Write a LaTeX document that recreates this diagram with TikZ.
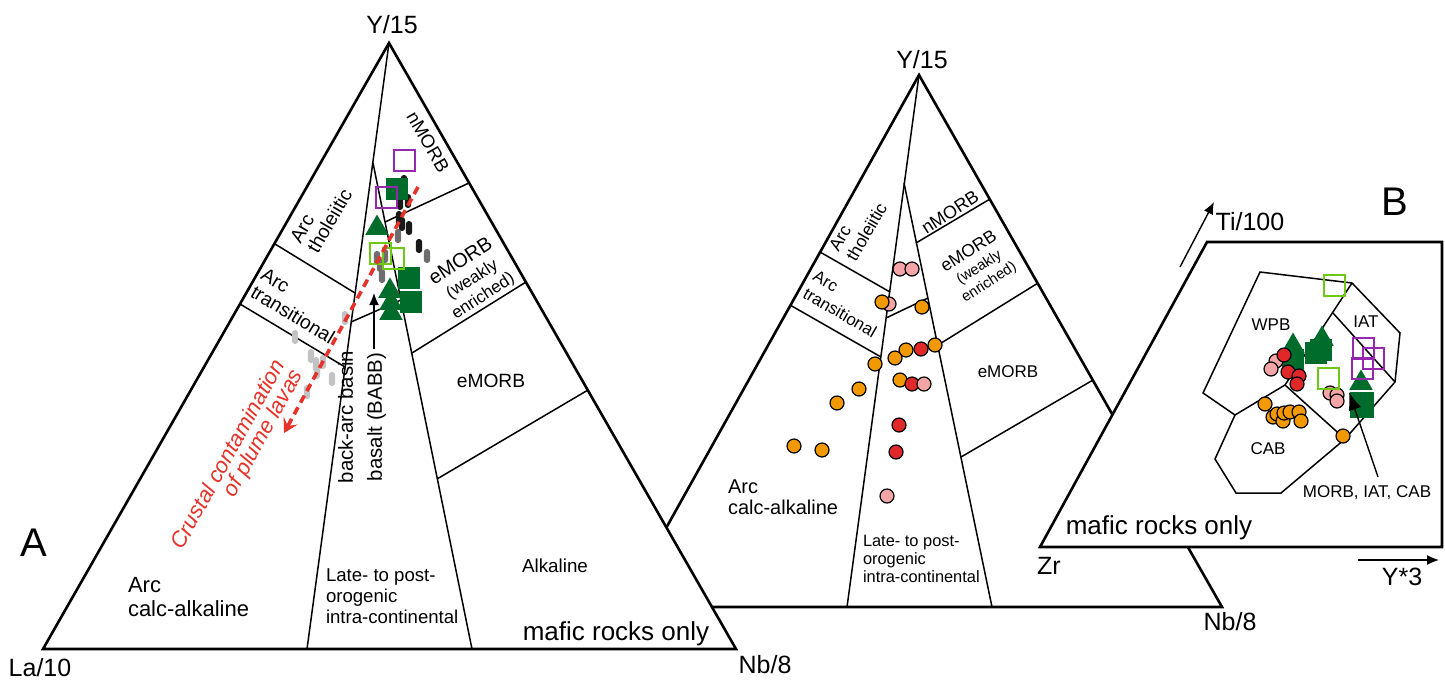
\documentclass[tikz,border=0pt]{standalone}
\usepackage{fontspec}
\setmainfont{Liberation Sans}
\usetikzlibrary{shapes.geometric, arrows.meta, calc}

\definecolor{symGreen}{RGB}{0,108,44}
\definecolor{symLime}{RGB}{110,200,20}
\definecolor{symPurple}{RGB}{150,40,175}
\definecolor{symRed}{RGB}{225,40,40}
\definecolor{symPink}{RGB}{245,165,165}
\definecolor{symOrange}{RGB}{243,153,0}
\definecolor{pillBlack}{RGB}{25,25,25}
\definecolor{pillDark}{RGB}{110,110,110}
\definecolor{pillLight}{RGB}{195,195,195}
\definecolor{trendRed}{RGB}{230,50,40}

\newcommand{\thickLine}{1.3pt}
\newcommand{\thinLine}{0.75pt}
\newcommand{\dotSize}{7pt}
\newcommand{\openSize}{10.5pt}
\newcommand{\solidSize}{11pt}
\newcommand{\triSize}{13.5pt}
\newcommand{\arrowTip}{{Latex[length=6pt, width=5pt]}}
\newcommand{\trendTip}{{Stealth[length=7pt, width=8pt, inset=3pt]}}

\tikzstyle{border}=[draw=black, line width=\thickLine]
\tikzstyle{split}=[draw=black, line width=\thinLine]
\tikzstyle{pointer}=[draw=black, line width=0.7pt, -\arrowTip]
\tikzstyle{trend}=[draw=trendRed, line width=1.8pt, dash pattern=on 4pt off 2.6pt, -\trendTip]
\tikzstyle{tag}=[inner sep=0, outer sep=0, font=\fontsize{9.5}{11}\selectfont]
\tikzstyle{small}=[tag, font=\fontsize{8.5}{9.5}\selectfont]
\tikzstyle{corner}=[tag, font=\fontsize{12.5}{14}\selectfont]
\tikzstyle{note}=[tag, font=\fontsize{13}{15}\selectfont]
\tikzstyle{panelTag}=[tag, font=\fontsize{20}{24}\selectfont]
\tikzstyle{dot}=[circle, draw=black, line width=0.6pt, minimum size=\dotSize, inner sep=0]
\tikzstyle{openBox}=[rectangle, draw, line width=1pt, minimum size=\openSize, inner sep=0]
\tikzstyle{solidBox}=[rectangle, fill=symGreen, minimum size=\solidSize, inner sep=0]
\tikzstyle{solidTri}=[regular polygon, regular polygon sides=3, fill=symGreen, minimum size=\triSize, inner sep=0]
\tikzstyle{pill}=[rectangle, rounded corners=1.5pt, minimum width=3.2pt, minimum height=7pt, inner sep=0]

\begin{document}
\begin{tikzpicture}[x=0.5pt, y=-0.5pt]

\useasboundingbox (0,0) rectangle (1445,681);

% Middle diagram
\coordinate (apexM) at (919,75);
\coordinate (leftM) at (622,607);
\coordinate (rightM) at (1222,607);
\coordinate (forkM) at (904,183);
\draw[border] (apexM) -- (leftM) -- (rightM) -- cycle;
\draw[split] (apexM) -- (847,607);
\draw[split] (forkM) -- (992,607);
\draw[split] (820,252) -- (890,292);
\draw[split] (790,305) -- (881,357);
\draw[split] (886,318) -- (928,298);
\draw[split] (916,243) -- (990,199);
\draw[split] (938,345) -- (1038,283);
\draw[split] (961,457) -- (1093,380);

\node[corner] (topM) at (922,60) {Y/15};
\node[corner] (rightTagM) at (1230,622) {Nb/8};
\node[tag, font=\fontsize{8.8}{10}\selectfont, rotate=60, align=left] (tholM) at (858,227) {Arc\\tholeiitic};
\node[tag, font=\fontsize{8.4}{10}\selectfont, rotate=-30, align=left] (transM) at (845,304) {Arc\\transitional};
\node[tag, font=\fontsize{9}{10}\selectfont, rotate=33] (nmorbM) at (950,212) {nMORB};
\node[tag, font=\fontsize{8.8}{9}\selectfont, rotate=33, align=center] (wemorbM) at (979,267)
  {eMORB\\\fontsize{7.4}{8.4}\selectfont(weakly\\\fontsize{7.4}{8.4}\selectfont enriched)};
\node[tag, font=\fontsize{8.5}{10}\selectfont] (emorbM) at (1008,372) {eMORB};
\node[tag, font=\fontsize{10}{10.5}\selectfont, anchor=west, align=left] (calcM) at (728,497) {Arc\\calc-alkaline};
\node[tag, font=\fontsize{8.2}{9}\selectfont, anchor=west, align=left] (lateM) at (863,559) {Late- to post-\\orogenic\\intra-continental};

\foreach \x/\y/\c [count=\i] in {900/269/symPink, 912/269/symPink, 889/304/symPink, 882/302/symOrange,
    922/307/symOrange, 906/350/symOrange, 921/349/symRed, 935/345/symOrange, 895/358/symOrange,
    875/364/symOrange, 900/380/symOrange, 912/384/symRed, 924/384/symPink, 859/389/symOrange,
    837/403/symOrange, 899/425/symRed, 896/452/symRed, 794/446/symOrange, 822/450/symOrange,
    887/496/symPink} {
  \node[dot, fill=\c] (dotM\i) at (\x,\y) {};
}

% Diagram A
\coordinate (apexA) at (389,43);
\coordinate (leftA) at (43,649);
\coordinate (rightA) at (736,649);
\coordinate (forkA) at (373,163);
\draw[border, fill=white] (apexA) -- (leftA) -- (rightA) -- cycle;
\draw[split] (apexA) -- (307,649);
\draw[split] (forkA) -- (472,649);
\draw[split] (275,244) -- (355,293);
\draw[split] (240,304) -- (345,367);
\draw[split] (351,322) -- (401,300);
\draw[split] (385,222) -- (469,183);
\draw[split] (412,353) -- (526,282);
\draw[split] (437,479) -- (588,390);

\node[corner] (topA) at (392,25) {Y/15};
\node[corner] (leftTagA) at (40,668) {La/10};
\node[corner] (rightTagA) at (765,665) {Nb/8};
\node[panelTag] (panelA) at (34,543) {A};
\node[note] (maficA) at (616,634) {mafic rocks only};
\node[tag, font=\fontsize{9.7}{10}\selectfont, rotate=60, align=left] (tholA) at (321,216) {Arc\\tholeiitic};
\node[tag, font=\fontsize{9.7}{10}\selectfont, rotate=-31, align=left] (transA) at (298,306) {Arc\\transitional};
\node[tag, font=\fontsize{9.3}{10}\selectfont, rotate=-60] (nmorbA) at (428,142) {nMORB};
\node[tag, font=\fontsize{10}{10}\selectfont, rotate=33, align=center] (wemorbA) at (472,279)
  {eMORB\\\fontsize{8.5}{9}\selectfont(weakly\\\fontsize{8.5}{9}\selectfont enriched)};
\node[tag, font=\fontsize{9.6}{11}\selectfont] (emorbA) at (491,381) {eMORB};
\node[tag, font=\fontsize{9.4}{11}\selectfont] (alkA) at (555,566) {Alkaline};
\node[tag, font=\fontsize{10.2}{14.5}\selectfont, rotate=90, align=center] (babbA) at (362,417) {back-arc basin\\basalt (BABB)};
\node[tag, font=\fontsize{11}{12}\selectfont, anchor=west, align=left] (calcA) at (128,597) {Arc\\calc-alkaline};
\node[tag, font=\fontsize{9.3}{10.5}\selectfont, anchor=west, align=left] (lateA) at (326,596) {Late- to post-\\orogenic\\intra-continental};

% Data in A
\foreach \x/\y [count=\i] in {295/337, 345/318, 311/356, 316/364, 323/362, 317/372, 332/379, 307/392} {
  \node[pill, fill=pillLight] (lightPill\i) at (\x,\y) {};
}
\foreach \x/\y [count=\i] in {398/236, 427/256, 377/258, 385/256, 382/276, 380/265} {
  \node[pill, fill=pillDark] (darkPill\i) at (\x,\y) {};
}
\foreach \x/\y [count=\i] in {404/182, 400/203, 408/201, 399/218, 402/224, 409/228, 419/246} {
  \node[pill, fill=pillBlack] (blackPill\i) at (\x,\y) {};
}
\foreach \x/\y [count=\i] in {397/189, 409/278, 411/302} {
  \node[solidBox] (boxA\i) at (\x,\y) {};
}
\foreach \x/\y [count=\i] in {377/228, 390/291, 391/303, 391/313} {
  \node[solidTri] (triA\i) at (\x,\y) {};
}
\node[openBox, draw=symPurple] (purpleA1) at (404,160) {};
\node[openBox, draw=symPurple] (purpleA2) at (386,197) {};
\node[openBox, draw=symLime] (limeA1) at (380,253) {};
\node[openBox, draw=symLime] (limeA2) at (393,258) {};

\coordinate (babbFoot) at (374,349);
\coordinate (babbTip) at (374,293);
\draw[pointer] (babbFoot) -- (babbTip);

\coordinate (trendStart) at (418,187);
\coordinate (trendEnd) at (284,433);
\draw[trend] (trendStart) -- (trendEnd);
\node[tag, font=\itshape\fontsize{11}{10}\selectfont, text=trendRed, rotate=61, align=right] (crustA) at (238,460)
  {Crustal contamination\\of plume lavas};

% Diagram B
\coordinate (boxTL) at (1207,242);
\coordinate (boxTR) at (1442,242);
\coordinate (boxBR) at (1442,547);
\coordinate (boxBL) at (1040,547);
\draw[border, fill=white] (boxTL) -- (boxTR) -- (boxBR) -- (boxBL) -- cycle;
\draw[split] (1260,272) -- (1352,283) -- (1400,333) -- (1395,382) -- (1345,439) -- (1281,493)
  -- (1236,493) -- (1215,459) -- (1235,415) -- (1203,393) -- cycle;
\draw[split] (1352,283) -- (1285,385) -- (1345,439);
\draw[split] (1235,415) -- (1285,385);
\draw[split] (1333,313) -- (1395,382);

\node[panelTag] (panelB) at (1395,202) {B};
\node[corner] (tiTag) at (1250,222) {Ti/100};
\node[corner] (yTag) at (1402,577) {Y*3};
\node[corner] (zrTag) at (1049,566) {Zr};
\node[note] (maficB) at (1159,528) {mafic rocks only};
\node[small] (wpbTag) at (1271,325) {WPB};
\node[small] (iatTag) at (1366,322) {IAT};
\node[small] (cabTag) at (1268,449) {CAB};
\node[small] (morbTag) at (1367,493) {MORB, IAT, CAB};

\coordinate (tiFoot) at (1180,267);
\coordinate (tiTip) at (1214,202);
\draw[pointer] (tiFoot) -- (tiTip);
\coordinate (yFoot) at (1358,560);
\coordinate (yTip) at (1439,560);
\draw[pointer] (yFoot) -- (yTip);

% Data in B
\foreach \x/\y [count=\i] in {1293/346, 1322/339, 1361/383} {
  \node[solidTri] (triB\i) at (\x,\y) {};
}
\foreach \x/\y [count=\i] in {1316/353, 1321/350, 1293/360} {
  \node[solidBox] (boxB\i) at (\x,\y) {};
}
\node[solidBox, minimum width=12pt, minimum height=13pt] (boxB4) at (1362,405) {};
\foreach \x/\y/\c [count=\i] in {1276/361/symPink, 1271/369/symPink, 1284/355/symRed, 1288/372/symRed,
    1299/376/symRed, 1297/384/symRed, 1330/393/symPink, 1337/395/symPink, 1337/401/symPink,
    1265/404/symOrange, 1343/436/symOrange, 1273/417/symOrange, 1277/414/symOrange, 1283/421/symOrange,
    1284/413/symOrange, 1290/412/symOrange, 1299/412/symOrange, 1301/421/symOrange} {
  \node[dot, fill=\c] (dotB\i) at (\x,\y) {};
}
\node[openBox, draw=symLime] (limeB1) at (1334,285) {};
\node[openBox, draw=symLime] (limeB2) at (1328,378) {};
\node[openBox, draw=symPurple] (purpleB1) at (1363,348) {};
\node[openBox, draw=symPurple] (purpleB2) at (1373,358) {};
\node[openBox, draw=symPurple] (purpleB3) at (1362,368) {};

\coordinate (morbFoot) at (1378,477);
\coordinate (morbTip) at (1349,392);
\draw[pointer, -{Latex[length=9pt, width=6.5pt]}] (morbFoot) -- (morbTip);

\end{tikzpicture}
\end{document}
